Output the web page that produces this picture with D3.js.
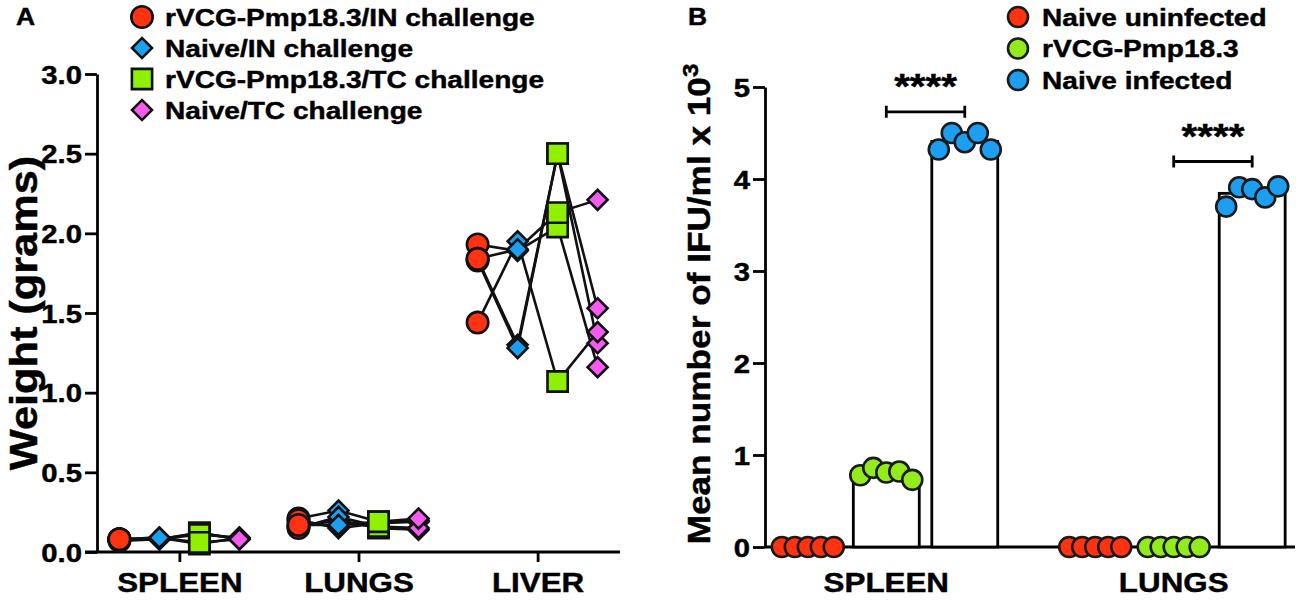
<!DOCTYPE html>
<html>
<head>
<meta charset="utf-8">
<script src="https://cdn.jsdelivr.net/npm/d3@7"></script>
<style>
  body { margin: 0; background: #fff; }
  svg { display: block; }
  text { font-family: "Liberation Sans", Arial, Helvetica, sans-serif; font-weight: bold; fill: #000; stroke: #000; stroke-width: 0.45px; }
</style>
</head>
<body>
<svg id="chart" width="1299" height="600"></svg>
<script>
// ---- panel A: organ weights ----
const ORGANS_A = ['SPLEEN', 'LUNGS', 'LIVER'];
const GROUPS_A = ['rVCG-Pmp18.3/IN challenge', 'Naive/IN challenge', 'rVCG-Pmp18.3/TC challenge', 'Naive/TC challenge'];
const COLORS_A = ['#ff3311', '#1b9ff0', '#8ff000', '#f55bf0'];
const SHAPES_A = ['circle', 'diamond', 'square', 'diamond'];
// one row per organ, one value per mouse (grams)
const rvcgIN = [
  [0.08, 0.08, 0.08, 0.07, 0.08],
  [0.21, 0.16, 0.20, 0.15, 0.17],
  [1.93, 1.84, 1.83, 1.44, 1.84]
];
const naiveIN = [
  [0.08, 0.09, 0.08, 0.08, 0.09],
  [0.26, 0.20, 0.15, 0.22, 0.17],
  [1.89, 1.30, 1.28, 1.95, 1.90]
];
const rvcgTC = [
  [0.12, 0.05, 0.12, 0.11, 0.06],
  [0.19, 0.15, 0.18, 0.16, 0.19],
  [2.04, 2.50, 2.50, 1.07, 2.13]
];
const naiveTC = [
  [0.08, 0.09, 0.08, 0.09, 0.08],
  [0.20, 0.14, 0.19, 0.15, 0.21],
  [1.16, 1.53, 1.31, 1.38, 2.21]
];
const WEIGHT_TICKS = [0, 0.5, 1, 1.5, 2, 2.5, 3];

// ---- panel B: IFU counts ----
const ORGANS_B = ['SPLEEN', 'LUNGS'];
const GROUPS_B = ['Naive uninfected', 'rVCG-Pmp18.3', 'Naive infected'];
const COLORS_B = ['#ff3311', '#93ea1c', '#1e9ef0'];
const naiveUninfected = [
  [0, 0, 0, 0, 0],
  [0, 0, 0, 0, 0]
];
const rvcgImmunized = [
  [0.78, 0.86, 0.81, 0.82, 0.73],
  [0, 0, 0, 0, 0]
];
const naiveInfected = [
  [4.32, 4.50, 4.40, 4.50, 4.32],
  [3.70, 3.91, 3.89, 3.80, 3.92]
];
const IFU_TICKS = [0, 1, 2, 3, 4, 5];
const SIGNIF = [
  { organ: 'SPLEEN', from: 1, to: 2, level: 4.73, label: '****' },
  { organ: 'LUNGS', from: 1, to: 2, level: 4.19, label: '****' }
];

const SX = 1.17;   // the figure's font runs wider than Arial
const svg = d3.select('#chart');

function stext(g, x, y, str, size, anchor = 'start', rotate = 0, sx = SX) {
  return g.append('text')
    .attr('transform', `translate(${x},${y}) rotate(${rotate}) scale(${sx},1)`)
    .attr('text-anchor', anchor)
    .attr('font-size', size)
    .text(str);
}

function styleAxis(g) {
  g.attr('font-size', null).attr('font-family', null);
  g.select('.domain').attr('stroke', '#000').attr('stroke-width', 2.8);
  g.selectAll('.tick line').attr('stroke', '#000').attr('stroke-width', 2.8);
}

function symbolPath(shape) {
  if (shape === 'circle') return d3.symbol(d3.symbolCircle, 360)();
  if (shape === 'square') return d3.symbol(d3.symbolSquare, 410)();
  return d3.symbol(d3.symbolSquare, 200)();
}

function drawMarker(g, x, y, shape, fill) {
  g.append('path')
    .attr('d', symbolPath(shape))
    .attr('transform', `translate(${x},${y})` + (shape === 'diamond' ? ' rotate(45)' : ''))
    .attr('fill', fill)
    .attr('stroke', '#111')
    .attr('stroke-width', 2.6);
}

// ================= panel A =================
const seriesA = [rvcgIN, naiveIN, rvcgTC, naiveTC];
const yA = d3.scaleLinear().domain([0, 3]).range([552, 74]);
const xA = d3.scalePoint().domain(ORGANS_A).range([97, 620]).padding(0.46);
const offA = d3.scalePoint().domain(GROUPS_A).range([-60, 60]);

const gA = svg.append('g');

const gyA = gA.append('g')
  .attr('transform', 'translate(97,0)')
  .call(d3.axisLeft(yA).tickValues(WEIGHT_TICKS).tickFormat(d3.format('.1f')).tickSize(12).tickSizeOuter(0));
styleAxis(gyA);
gyA.selectAll('.tick text')
  .attr('x', null).attr('dy', null)
  .attr('font-size', 25)
  .attr('transform', `translate(-15,9) scale(${SX},1)`);

const gxA = gA.append('g')
  .attr('transform', 'translate(0,552)')
  .call(d3.axisBottom(xA).tickSize(10).tickSizeOuter(0));
styleAxis(gxA);
gxA.select('.domain').attr('d', 'M85,0H620');
gxA.selectAll('.tick text')
  .attr('y', null).attr('dy', null)
  .attr('font-size', 28)
  .attr('transform', 'translate(0,40) scale(1.12,1)');

stext(gA, 37, 313, 'Weight (grams)', 38, 'middle', -90, 1.14);
stext(gA, 16, 25, 'A', 24, 'start', 0, 1.1);

// lines follow each mouse across the four groups
const lineA = d3.line();
ORGANS_A.forEach((organ, oi) => {
  const n = seriesA[0][oi].length;
  for (let i = 0; i < n; i++) {
    const pts = GROUPS_A.map((grp, gi) => [xA(organ) + offA(grp), yA(seriesA[gi][oi][i])]);
    gA.append('path')
      .attr('d', lineA(pts))
      .attr('fill', 'none')
      .attr('stroke', '#111')
      .attr('stroke-width', 2.6);
  }
});

GROUPS_A.forEach((grp, gi) => {
  ORGANS_A.forEach((organ, oi) => {
    seriesA[gi][oi].forEach(v => {
      drawMarker(gA, xA(organ) + offA(grp), yA(v), SHAPES_A[gi], COLORS_A[gi]);
    });
  });
});

// legend A
GROUPS_A.forEach((grp, gi) => {
  const y = 17 + gi * 31;
  drawMarker(gA, 142, y, SHAPES_A[gi], COLORS_A[gi]);
  stext(gA, 165, y + 8.5, grp, 24);
});

// ================= panel B =================
const seriesB = [naiveUninfected, rvcgImmunized, naiveInfected];
const yB = d3.scaleLinear().domain([0, 5]).range([547, 87]);
const xB = d3.scalePoint().domain(ORGANS_B).range([765, 1295]).padding(0.422);
const inner = d3.scaleBand().domain(GROUPS_B).range([-124, 124]).padding(0.16);
const spread = 13;

const gB = svg.append('g');

const gyB = gB.append('g')
  .attr('transform', 'translate(765,0)')
  .call(d3.axisLeft(yB).tickValues(IFU_TICKS).tickFormat(d3.format('d')).tickSize(12).tickSizeOuter(0));
styleAxis(gyB);
gyB.selectAll('.tick text')
  .attr('x', null).attr('dy', null)
  .attr('font-size', 25)
  .attr('transform', `translate(-15,9) scale(${SX},1)`);

gB.append('line')
  .attr('x1', 765).attr('x2', 1295)
  .attr('y1', yB(0)).attr('y2', yB(0))
  .attr('stroke', '#000').attr('stroke-width', 2.8);

ORGANS_B.forEach(organ => stext(gB, xB(organ), 592, organ, 28, 'middle', 0, 1.12));

const titleB = gB.append('text')
  .attr('transform', `translate(710,304) rotate(-90) scale(1.1,1)`)
  .attr('text-anchor', 'middle')
  .attr('font-size', 32);
titleB.append('tspan').text('Mean number of IFU/ml x 10');
titleB.append('tspan').attr('dy', -12).attr('font-size', 22).text('3');

stext(gB, 688, 25, 'B', 24, 'start', 0, 1.1);

// bars (mean) with points on top
GROUPS_B.forEach((grp, gi) => {
  ORGANS_B.forEach((organ, oi) => {
    const vals = seriesB[gi][oi];
    const m = d3.mean(vals);
    const x0 = xB(organ) + inner(grp);
    gB.append('rect')
      .attr('x', x0)
      .attr('y', yB(m))
      .attr('width', inner.bandwidth())
      .attr('height', yB(0) - yB(m))
      .attr('fill', '#fff')
      .attr('stroke', '#000')
      .attr('stroke-width', 2.8);
  });
});

GROUPS_B.forEach((grp, gi) => {
  ORGANS_B.forEach((organ, oi) => {
    const vals = seriesB[gi][oi];
    const cx = xB(organ) + inner(grp) + inner.bandwidth() / 2;
    vals.forEach((v, i) => {
      gB.append('circle')
        .attr('cx', cx + (i - (vals.length - 1) / 2) * spread)
        .attr('cy', yB(v))
        .attr('r', 10)
        .attr('fill', COLORS_B[gi])
        .attr('stroke', '#1a1a1a')
        .attr('stroke-width', 2.6);
    });
  });
});

// significance brackets
SIGNIF.forEach(s => {
  const xa = xB(s.organ) + inner(GROUPS_B[s.from]) + inner.bandwidth() / 2;
  const xb = xB(s.organ) + inner(GROUPS_B[s.to]) + inner.bandwidth() / 2;
  const y = yB(s.level);
  gB.append('path')
    .attr('d', `M${xa},${y - 6}V${y + 6}M${xa},${y}H${xb}M${xb},${y - 6}V${y + 6}`)
    .attr('fill', 'none')
    .attr('stroke', '#000')
    .attr('stroke-width', 2.8);
  stext(gB, (xa + xb) / 2, y - 14, s.label, 36, 'middle', 0, 1.12);
});

// legend B
GROUPS_B.forEach((grp, gi) => {
  const y = 17 + gi * 31.5;
  gB.append('circle')
    .attr('cx', 1018).attr('cy', y).attr('r', 10)
    .attr('fill', COLORS_B[gi])
    .attr('stroke', '#1a1a1a')
    .attr('stroke-width', 2.6);
  stext(gB, 1042, y + 8.5, grp, 24);
});
</script>
</body>
</html>
